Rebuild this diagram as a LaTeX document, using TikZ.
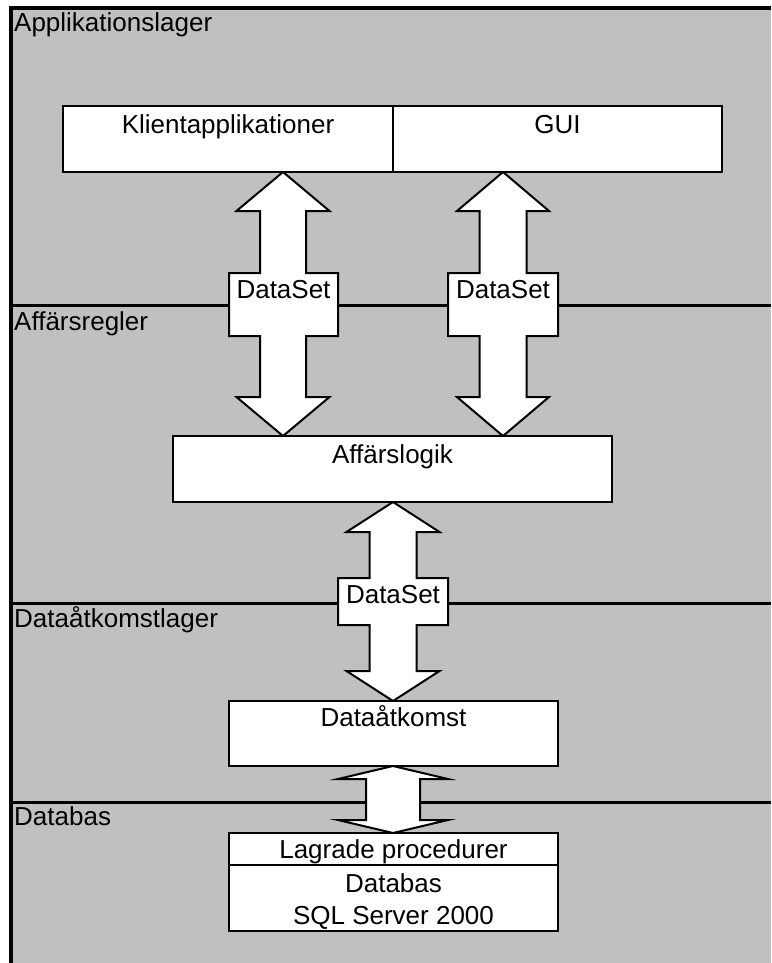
\documentclass[tikz,border=0pt]{standalone}
\usepackage{fontspec}
\setmainfont{Liberation Sans}
\usetikzlibrary{calc}
\definecolor{panel}{RGB}{192,192,192}
\pgfdeclarelayer{back}
\pgfdeclarelayer{arrows}
\pgfsetlayers{back,arrows,main}
\tikzset{
  txt/.style={font=\fontsize{26}{31}\selectfont},
  layername/.style={txt, anchor=base west, inner sep=0pt},
  box/.style={draw, line width=2pt, fill=white, inner sep=0pt, outer sep=0pt, anchor=north west},
  boxtext/.style={txt, anchor=base, inner sep=0pt},
  tagbox/.style={txt, anchor=north, inner sep=0pt, outer sep=0pt},
  arrowbody/.style={draw, fill=white, line width=2pt, line join=miter},
  sepline/.style={line width=3pt},
  frameline/.style={line width=3.5pt},
}
% double-headed block arrow: top tip, bottom tip, shaft half width, head half width, head length
\newcommand\blockarrow[5]{%
  \draw[arrowbody] let \p1=(#1), \p2=(#2) in
    (\x1,\y1) -- (\x1+#4pt,\y1-#5pt) -- (\x1+#3pt,\y1-#5pt) -- (\x1+#3pt,\y2+#5pt)
    -- (\x1+#4pt,\y2+#5pt) -- (\x2,\y2) -- (\x1-#4pt,\y2+#5pt) -- (\x1-#3pt,\y2+#5pt)
    -- (\x1-#3pt,\y1-#5pt) -- (\x1-#4pt,\y1-#5pt) -- cycle;}
% the same arrow, widened into a box around a label node
\newcommand\labelledarrow[6]{%
  \draw[arrowbody] let \p1=(#1), \p2=(#2), \p3=(#3.north east), \p4=(#3.south west) in
    (\x1,\y1) -- (\x1+#5pt,\y1-#6pt) -- (\x1+#4pt,\y1-#6pt) -- (\x1+#4pt,\y3) -- (\x3,\y3)
    -- (\x3,\y4) -- (\x1+#4pt,\y4) -- (\x1+#4pt,\y2+#6pt) -- (\x1+#5pt,\y2+#6pt) -- (\x2,\y2)
    -- (\x1-#5pt,\y2+#6pt) -- (\x1-#4pt,\y2+#6pt) -- (\x1-#4pt,\y4) -- (\x4,\y4) -- (\x4,\y3)
    -- (\x1-#4pt,\y3) -- (\x1-#4pt,\y1-#6pt) -- (\x1-#5pt,\y1-#6pt) -- cycle;}
\begin{document}
\begin{tikzpicture}[x=1pt, y=-1pt]
\useasboundingbox (0,0) rectangle (771,963);

% layer bands
\begin{pgfonlayer}{back}
  \fill[panel] (11,8) rectangle (771,963);
  \draw[sepline] (11,305) -- (771,305);
  \draw[sepline] (11,603) -- (771,603);
  \draw[sepline] (11,802) -- (771,802);
  \draw[frameline] (11,963) -- (11,8) -- (771,8);
\end{pgfonlayer}

\node[layername] (l1) at (14,32) {Applikationslager};
\node[layername] (l2) at (14,330) {Affärsregler};
\node[layername] (l3) at (14,627) {Dataåtkomstlager};
\node[layername] (l4) at (14,825) {Databas};

% boxes
\node[box, minimum width=330pt, minimum height=66pt] (klient) at (63,106) {};
\node[box, minimum width=329pt, minimum height=66pt] (gui) at (393,106) {};
\node[box, minimum width=439pt, minimum height=66pt] (logik) at (173,436) {};
\node[box, minimum width=329pt, minimum height=65pt] (access) at (229,701) {};
\node[box, minimum width=329pt, minimum height=32pt] (procs) at (229,833) {};
\node[box, minimum width=329pt, minimum height=66pt] (db) at (229,865) {};

\node[boxtext] (klientT) at (228,133) {Klientapplikationer};
\node[boxtext] (guiT) at (557.5,133) {GUI};
\node[boxtext] (logikT) at (392.5,463) {Affärslogik};
\node[boxtext] (accessT) at (393.5,726) {Dataåtkomst};
\node[boxtext] (procsT) at (393.5,858) {Lagrade procedurer};
\node[boxtext] (dbT1) at (393.5,892) {Databas};
\node[boxtext] (dbT2) at (393.5,924) {SQL Server 2000};

% labels carried by the arrows
\node[tagbox, minimum width=109pt, text height=25pt, text depth=38pt] (dsA) at (283.5,273) {DataSet};
\node[tagbox, minimum width=110pt, text height=25pt, text depth=38pt] (dsB) at (503,273) {DataSet};
\node[tagbox, minimum width=110pt, text height=25pt, text depth=22pt] (dsC) at (393,578) {DataSet};

\begin{pgfonlayer}{arrows}
  \labelledarrow{283,0 |- klient.south}{283,0 |- logik.north}{dsA}{23}{46.5}{39}
  \labelledarrow{503,0 |- gui.south}{503,0 |- logik.north}{dsB}{23.5}{46}{39}
  \labelledarrow{393,0 |- logik.south}{393,0 |- access.north}{dsC}{23.5}{46.5}{30}
  \blockarrow{393,0 |- access.south}{393,0 |- procs.north}{27}{55}{13}
\end{pgfonlayer}
\end{tikzpicture}
\end{document}
